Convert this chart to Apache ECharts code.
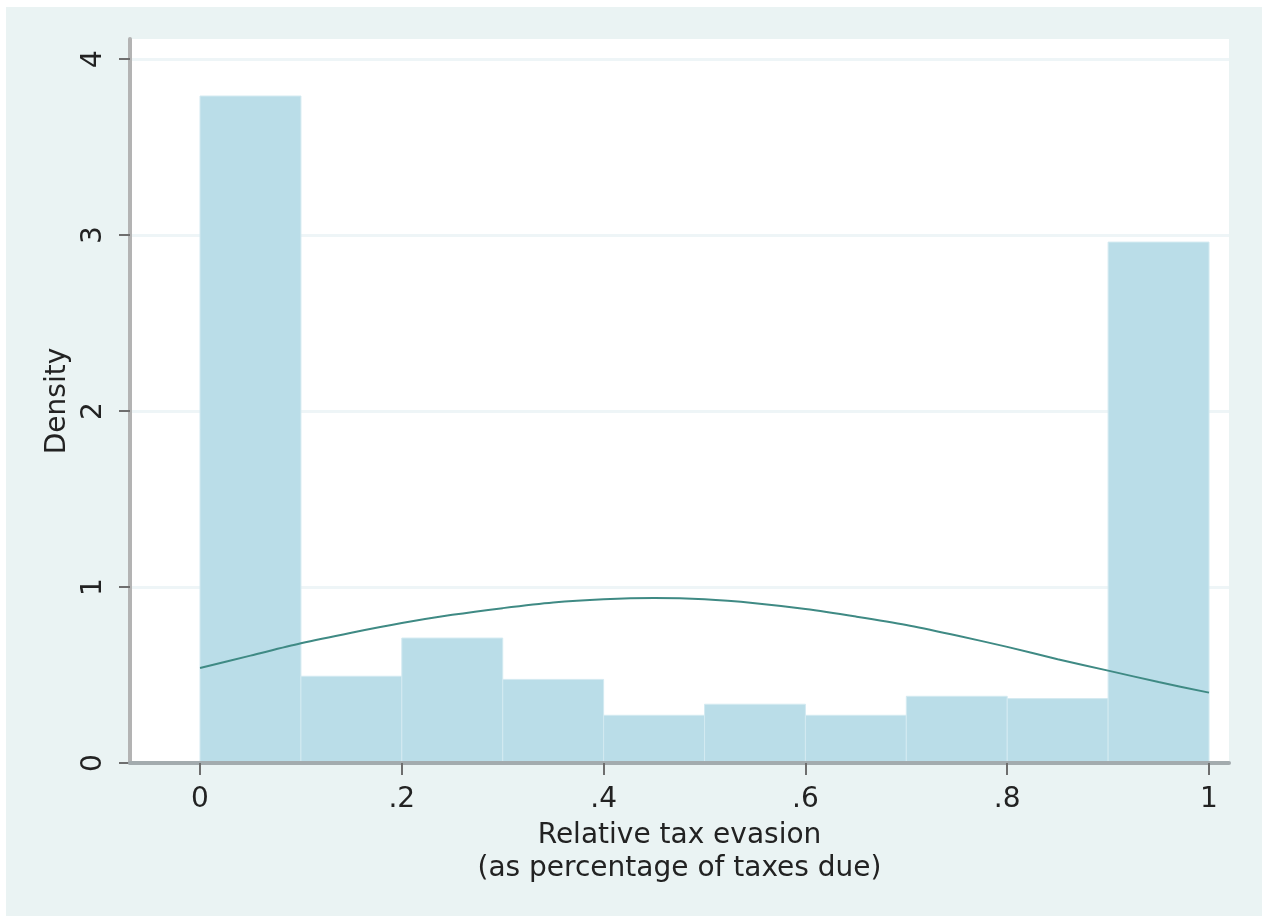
<!DOCTYPE html>
<html>
<head>
<meta charset="utf-8">
<script src="https://cdn.jsdelivr.net/npm/echarts@6/dist/echarts.min.js"></script>
<style>
  html, body { margin: 0; padding: 0; background: #fff; }
  #chart { position: absolute; left: 6px; top: 7px; width: 1256px; height: 909px; }
</style>
</head>
<body>
<div id="chart"></div>
<script>
// histogram bins (width .1) and their densities
const binStarts = [0, 0.1, 0.2, 0.3, 0.4, 0.5, 0.6, 0.7, 0.8, 0.9];
const binEnds = [0.1, 0.2, 0.3, 0.4, 0.5, 0.6, 0.7, 0.8, 0.9, 1];
const densities = [3.79, 0.493, 0.71, 0.475, 0.271, 0.334, 0.271, 0.379, 0.366, 2.96];

const curveX = [0, 0.05, 0.1, 0.15, 0.2, 0.25, 0.3, 0.35, 0.4, 0.45, 0.5,
                0.55, 0.6, 0.65, 0.7, 0.75, 0.8, 0.85, 0.9, 0.95, 1];
const curveY = [0.54, 0.61, 0.68, 0.74, 0.795, 0.842, 0.88, 0.912, 0.93, 0.937, 0.93,
                0.908, 0.875, 0.832, 0.784, 0.724, 0.66, 0.59, 0.525, 0.46, 0.40];

const xTicks = [0, 0.2, 0.4, 0.6, 0.8, 1];
const xTickLabels = ['0', '.2', '.4', '.6', '.8', '1'];
const yTicks = [0, 1, 2, 3, 4];
const yTickLabels = ['0', '1', '2', '3', '4'];

const font = 'DejaVu Sans';
const textColor = '#222';

const chart = echarts.init(document.getElementById('chart'));

chart.setOption({
  backgroundColor: '#eaf3f3',
  animation: false,
  grid: {
    left: 124,
    right: 33,
    top: 32,
    bottom: 153,
    show: true,
    backgroundColor: '#fff',
    borderWidth: 0
  },
  xAxis: {
    type: 'value',
    min: -0.0694,
    max: 1.0198,
    z: 5,
    name: 'Relative tax evasion\n(as percentage of taxes due)',
    nameLocation: 'middle',
    nameGap: 55,
    nameTextStyle: { fontFamily: font, fontSize: 28, color: textColor, lineHeight: 33 },
    axisLine: { onZero: false, lineStyle: { color: '#a3abae', width: 4 } },
    axisTick: {
      customValues: xTicks,
      length: 12,
      lineStyle: { color: '#6e6e6e', width: 2 }
    },
    axisLabel: {
      customValues: xTicks,
      margin: 23,
      fontFamily: font,
      fontSize: 28,
      color: textColor,
      formatter: v => xTickLabels[xTicks.findIndex(t => Math.abs(t - v) < 1e-6)]
    },
    splitLine: { show: false }
  },
  yAxis: {
    type: 'value',
    min: 0,
    max: 4.114,
    name: 'Density',
    nameLocation: 'middle',
    nameGap: 58,
    nameRotate: 90,
    nameTextStyle: { fontFamily: font, fontSize: 28, color: textColor },
    axisLine: { show: true, onZero: false, lineStyle: { color: '#b3b3b3', width: 4 } },
    axisTick: {
      show: true,
      customValues: yTicks,
      length: 11,
      lineStyle: { color: '#6e6e6e', width: 2 }
    },
    axisLabel: {
      customValues: yTicks,
      rotate: 90,
      margin: 22,
      fontFamily: font,
      fontSize: 28,
      color: textColor,
      formatter: v => yTickLabels[yTicks.indexOf(v)]
    },
    splitLine: { show: true, lineStyle: { color: '#eef5f7', width: 3 } }
  },
  series: [
    {
      type: 'custom',
      renderItem: function (params, api) {
        const top = api.coord([api.value(0), api.value(2)]);
        const base = api.coord([api.value(1), 0]);
        return {
          type: 'rect',
          shape: { x: top[0], y: top[1], width: base[0] - top[0], height: base[1] - top[1] },
          style: { fill: '#badde8', stroke: '#d3eaf1', lineWidth: 1 }
        };
      },
      encode: { x: [0, 1], y: 2 },
      data: binStarts.map((s, i) => [s, binEnds[i], densities[i]])
    },
    {
      type: 'line',
      smooth: 0.3,
      showSymbol: false,
      lineStyle: { color: '#3f8a84', width: 2 },
      data: curveX.map((x, i) => [x, curveY[i]])
    }
  ]
});
</script>
</body>
</html>
